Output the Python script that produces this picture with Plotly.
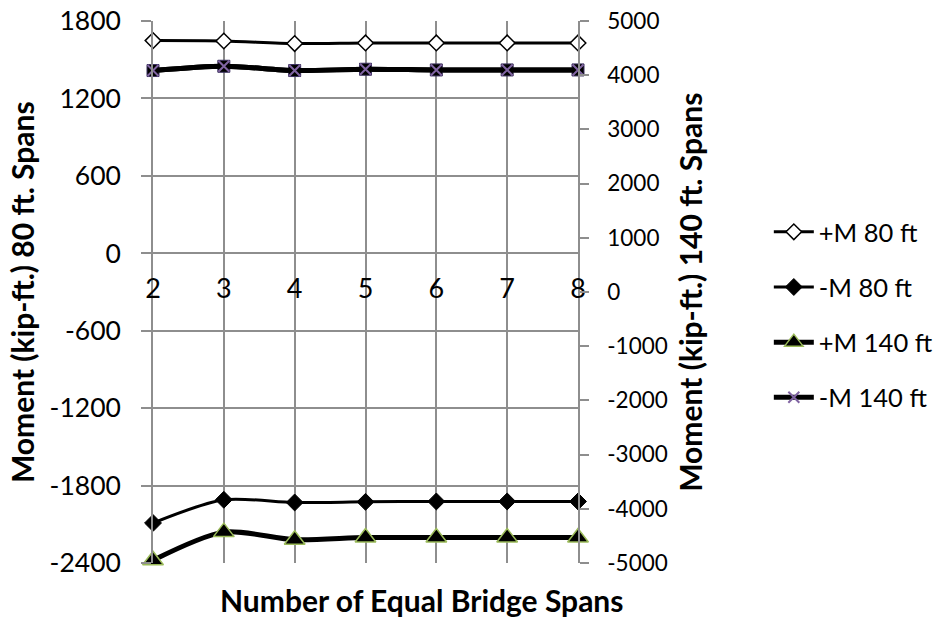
import plotly.graph_objects as go

# Number of equal bridge spans
spans = [2, 3, 4, 5, 6, 7, 8]

# Moments (kip-ft.) for 80 ft spans (primary axis)
pos_m_80 = [1648, 1645, 1625, 1630, 1630, 1630, 1630]
neg_m_80 = [-2090, -1910, -1931, -1926, -1923, -1923, -1923]

# Moments (kip-ft.) for 140 ft spans (secondary axis)
pos_m_140 = [-4950, -4430, -4570, -4530, -4530, -4530, -4530]
neg_m_140 = [4086, 4165, 4086, 4110, 4097, 4097, 4097]

left_ticks = [-2400, -1800, -1200, -600, 0, 600, 1200, 1800]
right_ticks = [-5000, -4000, -3000, -2000, -1000, 0, 1000, 2000, 3000, 4000, 5000]

FONT = "Lato"
GRID = "#8e8e8e"
GREEN = "#9bbb59"
PURPLE = "#8064a2"
TITLE_SIZE = 30

fig = go.Figure()

fig.add_trace(go.Scatter(
    x=spans, y=pos_m_80, name="+M 80 ft", legendgroup="a",
    mode="lines+markers", line=dict(color="black", width=3, shape="spline", smoothing=0.8),
    marker=dict(symbol="diamond", size=12, color="white", line=dict(color="black", width=1.5)),
    cliponaxis=False,
))
fig.add_trace(go.Scatter(
    x=spans, y=neg_m_80, name="-M 80 ft", legendgroup="b",
    mode="lines+markers", line=dict(color="black", width=3, shape="spline", smoothing=0.8),
    marker=dict(symbol="diamond", size=13, color="black", line=dict(color="black", width=1)),
    cliponaxis=False,
))
fig.add_trace(go.Scatter(
    x=spans, y=pos_m_140, name="+M 140 ft", legendgroup="c", yaxis="y2",
    mode="lines+markers", line=dict(color="black", width=5, shape="spline", smoothing=0.8),
    marker=dict(symbol="triangle-up", size=18, color="black", line=dict(color=GREEN, width=1.5)),
    cliponaxis=False,
))
# square backing for the -M 140 ft markers
fig.add_trace(go.Scatter(
    x=spans, y=neg_m_140, legendgroup="d", yaxis="y2", showlegend=False,
    mode="lines+markers", line=dict(color="black", width=5, shape="spline", smoothing=0.8),
    marker=dict(symbol="square", size=12, color="black", line=dict(color="#3b3060", width=1)),
    cliponaxis=False, hoverinfo="skip",
))
fig.add_trace(go.Scatter(
    x=spans, y=neg_m_140, name="-M 140 ft", legendgroup="d", yaxis="y2",
    mode="lines+markers", line=dict(color="black", width=5, shape="spline", smoothing=0.8),
    marker=dict(symbol="x-thin", size=11, color=PURPLE, line=dict(color=PURPLE, width=2)),
    cliponaxis=False,
))

fig.update_layout(
    width=942, height=617,
    margin=dict(l=153, r=364, t=21, b=54, autoexpand=False),
    paper_bgcolor="white", plot_bgcolor="white",
    font=dict(family=FONT, size=24, color="black"),
    showlegend=True,
    legend=dict(
        x=1.449, xanchor="left", y=0.458, yanchor="middle",
        font=dict(family=FONT, size=25.5, color="black"),
        tracegroupgap=19, itemwidth=40, bgcolor="rgba(0,0,0,0)",
    ),
    xaxis=dict(
        range=[2, 8], tickvals=spans, ticktext=[str(s) for s in spans],
        showgrid=True, gridcolor=GRID, gridwidth=1.5,
        showline=False, zeroline=False, ticks="",
        anchor="free", position=0.54,
        tickfont=dict(family=FONT, size=27, color="black"),
    ),
    yaxis=dict(
        range=[-2400, 1800], tickvals=left_ticks, ticktext=[str(v) for v in left_ticks],
        showgrid=True, gridcolor=GRID, gridwidth=1.5,
        showline=True, linecolor=GRID, linewidth=1.5,
        ticks="outside", ticklen=10, tickcolor=GRID, tickwidth=1.5,
        zeroline=False, ticklabelstandoff=15,
        tickfont=dict(family=FONT, size=26.5, color="black"),
    ),
    yaxis2=dict(
        range=[-5000, 5000], tickvals=right_ticks, ticktext=[str(v) for v in right_ticks],
        overlaying="y", side="right",
        showgrid=False, showline=True, linecolor=GRID, linewidth=1.5,
        ticks="outside", ticklen=9, tickcolor=GRID, tickwidth=1.5,
        zeroline=False, ticklabelstandoff=14,
        tickfont=dict(family=FONT, size=22.5, color="black"),
    ),
    annotations=[
        dict(text="<b>Moment (kip-ft.) 80 ft. Spans</b>", textangle=-90,
             xref="paper", yref="paper", x=-0.308, y=0.5, xanchor="center", yanchor="middle",
             showarrow=False, font=dict(family=FONT, size=TITLE_SIZE, color="black")),
        dict(text="<b>Moment (kip-ft.) 140 ft. Spans</b>", textangle=-90,
             xref="paper", yref="paper", x=1.263, y=0.5, xanchor="center", yanchor="middle",
             showarrow=False, font=dict(family=FONT, size=TITLE_SIZE, color="black")),
        dict(text="<b>Number of Equal Bridge Spans</b>",
             xref="paper", yref="paper", x=0.631, y=-0.068, xanchor="center", yanchor="middle",
             showarrow=False, font=dict(family=FONT, size=TITLE_SIZE, color="black")),
    ],
)

fig.write_html("out.html")
